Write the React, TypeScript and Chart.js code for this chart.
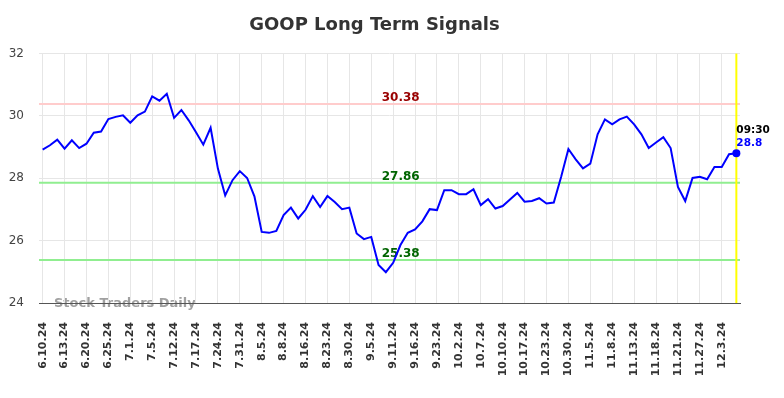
import React, { useEffect, useRef } from "react";
import { Chart, registerables } from "chart.js";

Chart.register(...registerables);

const dates: string[] = [
  "6.10.24", "6.11.24", "6.12.24", "6.13.24", "6.14.24", "6.18.24", "6.20.24", "6.21.24", "6.24.24",
  "6.25.24", "6.26.24", "6.28.24", "7.1.24", "7.2.24", "7.3.24", "7.5.24", "7.9.24", "7.10.24",
  "7.12.24", "7.15.24", "7.16.24", "7.17.24", "7.19.24", "7.22.24", "7.24.24", "7.26.24", "7.29.24",
  "7.31.24", "8.1.24", "8.2.24", "8.5.24", "8.6.24", "8.7.24", "8.8.24", "8.12.24", "8.14.24",
  "8.16.24", "8.20.24", "8.21.24", "8.23.24", "8.27.24", "8.28.24", "8.30.24", "9.3.24", "9.4.24",
  "9.5.24", "9.9.24", "9.10.24", "9.11.24", "9.12.24", "9.13.24", "9.16.24", "9.18.24", "9.20.24",
  "9.23.24", "9.26.24", "9.30.24", "10.2.24", "10.3.24", "10.4.24", "10.7.24", "10.8.24", "10.9.24",
  "10.10.24", "10.14.24", "10.15.24", "10.17.24", "10.21.24", "10.22.24", "10.23.24", "10.25.24", "10.28.24",
  "10.30.24", "11.1.24", "11.4.24", "11.5.24", "11.6.24", "11.7.24", "11.8.24", "11.11.24", "11.12.24",
  "11.13.24", "11.14.24", "11.15.24", "11.18.24", "11.19.24", "11.20.24", "11.21.24", "11.22.24", "11.25.24",
  "11.27.24", "11.29.24", "12.2.24", "12.3.24", "12.4.24", "12.5.24",
];

const prices: number[] = [
  28.92, 29.06, 29.24, 28.95, 29.22, 28.97, 29.11, 29.46, 29.5, 29.9,
  29.97, 30.02, 29.78, 30.02, 30.14, 30.63, 30.49, 30.71, 29.94, 30.19,
  29.86, 29.48, 29.08, 29.62, 28.31, 27.45, 27.94, 28.23, 28.01, 27.42,
  26.28, 26.25, 26.31, 26.82, 27.06, 26.71, 26.99, 27.43, 27.08, 27.43,
  27.24, 27.01, 27.06, 26.23, 26.05, 26.12, 25.22, 24.99, 25.29, 25.86,
  26.25, 26.36, 26.62, 27.01, 26.98, 27.62, 27.62, 27.49, 27.49, 27.65,
  27.14, 27.33, 27.03, 27.11, 27.32, 27.53, 27.25, 27.27, 27.36, 27.19,
  27.22, 28.04, 28.94, 28.61, 28.32, 28.47, 29.41, 29.89, 29.73, 29.89,
  29.98, 29.73, 29.41, 28.97, 29.15, 29.32, 28.97, 27.72, 27.27, 28.01,
  28.05, 27.97, 28.36, 28.36, 28.77, 28.8,
];

const resistanceLevels: number[] = [30.38];
const supportLevels: number[] = [27.86, 25.38];
const lastTime = "09:30";
const yMin = 24;
const yMax = 32;
const yStep = 2;

const FONT = "'DejaVu Sans', sans-serif";

const overlayPlugin = {
  id: "overlay",
  beforeDraw(chart: any) {
    const { ctx, chartArea } = chart;
    ctx.save();
    ctx.font = `bold 13px ${FONT}`;
    ctx.fillStyle = "rgba(150,150,150,0.9)";
    ctx.textAlign = "left";
    ctx.textBaseline = "alphabetic";
    ctx.fillText("Stock Traders Daily", chartArea.left + 15, chartArea.bottom + 4);
    ctx.restore();
  },
  beforeDatasetsDraw(chart: any) {
    const { ctx, chartArea, scales } = chart;
    const y = scales.y;
    const x = scales.x;
    const labelX = chartArea.left + (chartArea.right - chartArea.left) * 0.516;
    ctx.save();
    const drawLevel = (v: number, lineColor: string, textColor: string) => {
      const py = y.getPixelForValue(v);
      ctx.strokeStyle = lineColor;
      ctx.lineWidth = 2;
      ctx.beginPath();
      ctx.moveTo(chartArea.left, py);
      ctx.lineTo(chartArea.right, py);
      ctx.stroke();
      ctx.font = `bold 12px ${FONT}`;
      ctx.fillStyle = textColor;
      ctx.textAlign = "center";
      ctx.textBaseline = "alphabetic";
      ctx.fillText(v.toFixed(2), labelX, py - 3);
    };
    resistanceLevels.forEach((v) => drawLevel(v, "#ffcccc", "#990000"));
    supportLevels.forEach((v) => drawLevel(v, "#90ee90", "#006400"));
    const lx = x.getPixelForValue(prices.length - 1);
    ctx.strokeStyle = "#ffff00";
    ctx.lineWidth = 2;
    ctx.beginPath();
    ctx.moveTo(lx, chartArea.top);
    ctx.lineTo(lx, chartArea.bottom);
    ctx.stroke();
    ctx.restore();
  },
  afterDatasetsDraw(chart: any) {
    const { ctx, scales } = chart;
    const i = prices.length - 1;
    const px = scales.x.getPixelForValue(i);
    const py = scales.y.getPixelForValue(prices[i]);
    ctx.save();
    ctx.font = `bold 10.5px ${FONT}`;
    ctx.textAlign = "left";
    ctx.textBaseline = "alphabetic";
    ctx.fillStyle = "#000000";
    ctx.fillText(lastTime, px, py - 20);
    ctx.fillStyle = "#0000ff";
    ctx.fillText(String(prices[i]), px, py - 7);
    ctx.restore();
  },
};

export default function App() {
  const ref = useRef<HTMLCanvasElement | null>(null);

  useEffect(() => {
    if (!ref.current) return;
    Chart.defaults.font.family = FONT;
    const chart = new Chart(ref.current, {
      type: "line",
      data: {
        labels: dates,
        datasets: [
          {
            data: prices,
            borderColor: "#0000ff",
            backgroundColor: "#0000ff",
            borderWidth: 2,
            tension: 0,
            fill: false,
            pointRadius: (c: any) => (c.dataIndex === prices.length - 1 ? 4 : 0),
            pointHoverRadius: 0,
            pointBackgroundColor: "#0000ff",
            pointBorderWidth: 0,
          },
        ],
      },
      options: {
        animation: false,
        responsive: false,
        maintainAspectRatio: false,
        layout: { padding: { left: 9, right: 44, top: 0, bottom: 21 } },
        plugins: {
          legend: { display: false },
          tooltip: { enabled: false },
          title: {
            display: true,
            text: "GOOP Long Term Signals",
            color: "#333333",
            font: { size: 18, weight: "bold", family: FONT },
            padding: { top: 15, bottom: 17 },
          },
        },
        scales: {
          x: {
            offset: true,
            grid: { color: "#e6e6e6", drawTicks: false },
            border: { display: true, color: "#555555", width: 1 },
            afterFit: (s: any) => {
              s.paddingLeft = 0;
              s.paddingRight = 0;
              s.height = 74;
            },
            ticks: {
              autoSkip: false,
              maxRotation: 90,
              minRotation: 90,
              padding: 19,
              color: "#333333",
              font: { size: 11, weight: "bold", family: FONT },
              callback: (_v: any, i: number) => (i % 3 === 0 ? dates[i] : null),
            },
          },
          y: {
            min: yMin,
            max: yMax,
            grid: { color: "#e6e6e6", drawTicks: false },
            border: { display: false },
            afterFit: (s: any) => {
              s.width = 30;
            },
            ticks: {
              stepSize: yStep,
              padding: 15,
              color: "#444444",
              font: { size: 12, family: FONT },
            },
          },
        },
      },
      plugins: [overlayPlugin],
    });
    return () => chart.destroy();
  }, []);

  return (
    <div style={{ position: "absolute", left: 0, top: 0, width: 784, height: 398 }}>
      <canvas ref={ref} width={784} height={398} style={{ display: "block" }} />
    </div>
  );
}
